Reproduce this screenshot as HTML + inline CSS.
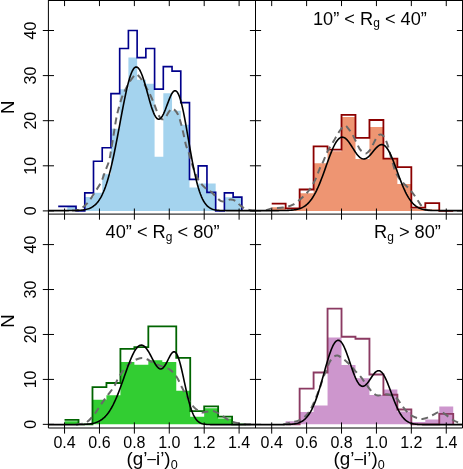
<!DOCTYPE html>
<html><head><meta charset="utf-8"><title>histograms</title>
<style>html,body{margin:0;padding:0;background:#fff}body{width:463px;height:469px;overflow:hidden;font-family:"Liberation Sans",sans-serif}</style></head>
<body>
<svg width="463" height="469" viewBox="0 0 463 469" style="display:block">
<rect width="463" height="469" fill="#fff"/>
<g id="TL">
<path d="M67.31,210.90V206.39H76.04V210.90H84.77V196.92H93.50V192.86H102.22V174.37H110.95V128.82H119.68V89.13H128.40V57.56H137.13V79.66H145.86V83.72H154.59V156.78H163.31V93.19H172.04V110.78H180.77V124.76H189.49V187.45H198.22V183.39H206.95V183.39H215.67V210.90H224.40V197.14H233.13V197.14H241.86V210.90Z" fill="#A4D3EE" stroke="none"/>
<path d="M58.20,206.39V206.39H67.31V206.39H76.04V210.90H84.77V192.86H93.50V161.29H102.22V147.76H110.95V93.64H119.68V48.54H128.40V30.50H137.13V57.56H145.86V48.54H154.59V89.13H163.31V66.58H172.04V71.09H180.77V102.66H189.49V179.33H198.22V165.80H206.95V192.41H215.67V210.90H224.40V192.86H233.13V197.14H241.86V210.90" fill="none" stroke="#00008B" stroke-width="1.65" stroke-linejoin="miter"/>
<path d="M72.00,210.40C73.25,210.27 76.82,210.95 79.50,209.60C82.18,208.25 85.58,205.13 88.10,202.30C90.62,199.47 92.43,195.95 94.60,192.60C96.77,189.25 99.37,185.67 101.10,182.20C102.83,178.73 103.70,175.25 105.00,171.80C106.30,168.35 107.93,164.80 108.90,161.50C109.87,158.20 109.95,156.87 110.80,152.00C111.65,147.13 113.10,137.82 114.00,132.30C114.90,126.78 115.52,122.53 116.20,118.90C116.88,115.27 117.23,113.83 118.10,110.50C118.97,107.17 120.20,102.35 121.40,98.90C122.60,95.45 123.80,92.83 125.30,89.80C126.80,86.77 128.68,83.25 130.40,80.70C132.12,78.15 134.18,75.25 135.60,74.50C137.02,73.75 137.72,75.05 138.90,76.20C140.08,77.35 140.87,78.38 142.70,81.40C144.53,84.42 147.95,90.42 149.90,94.30C151.85,98.18 153.08,101.47 154.40,104.70C155.72,107.93 156.65,111.33 157.80,113.70C158.95,116.07 160.12,118.15 161.30,118.90C162.48,119.65 163.55,119.50 164.90,118.20C166.25,116.90 168.03,112.67 169.40,111.10C170.77,109.53 171.70,108.27 173.10,108.80C174.50,109.33 176.47,111.77 177.80,114.30C179.13,116.83 180.08,120.43 181.10,124.00C182.12,127.57 183.08,132.17 183.90,135.70C184.72,139.23 185.22,142.47 186.00,145.20C186.78,147.93 187.60,148.97 188.60,152.10C189.60,155.23 190.77,160.18 192.00,164.00C193.23,167.82 194.55,171.80 196.00,175.00C197.45,178.20 199.05,180.97 200.70,183.20C202.35,185.43 204.17,186.97 205.90,188.40C207.63,189.83 209.37,190.37 211.10,191.80C212.83,193.23 214.72,195.50 216.30,197.00C217.88,198.50 219.17,200.08 220.60,200.80C222.03,201.52 223.32,201.50 224.90,201.30C226.48,201.10 228.37,199.68 230.10,199.60C231.83,199.52 233.72,199.93 235.30,200.80C236.88,201.67 238.02,203.50 239.60,204.80C241.18,206.10 242.93,207.70 244.80,208.60C246.67,209.50 249.10,209.90 250.80,210.20C252.50,210.50 254.30,210.37 255.00,210.40" fill="none" stroke="#696969" stroke-width="2" stroke-dasharray="6.8,4.6"/>
<path d="M48.40,210.60 L49.40,210.60 L50.40,210.60 L51.40,210.60 L52.40,210.60 L53.40,210.60 L54.40,210.60 L55.40,210.60 L56.40,210.60 L57.40,210.60 L58.40,210.60 L59.40,210.60 L60.40,210.60 L61.40,210.60 L62.40,210.60 L63.40,210.59 L64.40,210.59 L65.40,210.59 L66.40,210.59 L67.40,210.58 L68.40,210.58 L69.40,210.57 L70.40,210.56 L71.40,210.55 L72.40,210.54 L73.40,210.52 L74.40,210.50 L75.40,210.48 L76.40,210.44 L77.40,210.41 L78.40,210.36 L79.40,210.30 L80.40,210.22 L81.40,210.14 L82.40,210.03 L83.40,209.90 L84.40,209.74 L85.40,209.56 L86.40,209.34 L87.40,209.07 L88.40,208.76 L89.40,208.40 L90.40,207.97 L91.40,207.47 L92.40,206.90 L93.40,206.23 L94.40,205.46 L95.40,204.58 L96.40,203.58 L97.40,202.44 L98.40,201.15 L99.40,199.70 L100.40,198.08 L101.40,196.27 L102.40,194.26 L103.40,192.04 L104.40,189.61 L105.40,186.94 L106.40,184.04 L107.40,180.89 L108.40,177.50 L109.40,173.87 L110.40,169.99 L111.40,165.88 L112.40,161.53 L113.40,156.97 L114.40,152.22 L115.40,147.28 L116.40,142.20 L117.40,136.98 L118.40,131.67 L119.40,126.31 L120.40,120.92 L121.40,115.56 L122.40,110.26 L123.40,105.08 L124.40,100.05 L125.40,95.22 L126.40,90.64 L127.40,86.36 L128.40,82.41 L129.40,78.85 L130.40,75.70 L131.40,72.99 L132.40,70.76 L133.40,69.03 L134.40,67.82 L135.40,67.12 L136.40,66.95 L137.40,67.29 L138.40,68.14 L139.40,69.47 L140.40,71.26 L141.40,73.47 L142.40,76.05 L143.40,78.97 L144.40,82.15 L145.40,85.55 L146.40,89.10 L147.40,92.73 L148.40,96.37 L149.40,99.95 L150.40,103.41 L151.40,106.66 L152.40,109.65 L153.40,112.32 L154.40,114.61 L155.40,116.48 L156.40,117.88 L157.40,118.80 L158.40,119.21 L159.40,119.12 L160.40,118.53 L161.40,117.47 L162.40,115.98 L163.40,114.10 L164.40,111.90 L165.40,109.45 L166.40,106.83 L167.40,104.13 L168.40,101.44 L169.40,98.87 L170.40,96.50 L171.40,94.43 L172.40,92.74 L173.40,91.51 L174.40,90.80 L175.40,90.68 L176.40,91.18 L177.40,92.31 L178.40,94.10 L179.40,96.52 L180.40,99.56 L181.40,103.18 L182.40,107.33 L183.40,111.94 L184.40,116.94 L185.40,122.27 L186.40,127.83 L187.40,133.54 L188.40,139.33 L189.40,145.13 L190.40,150.84 L191.40,156.43 L192.40,161.81 L193.40,166.96 L194.40,171.82 L195.40,176.37 L196.40,180.60 L197.40,184.47 L198.40,188.00 L199.40,191.19 L200.40,194.03 L201.40,196.56 L202.40,198.78 L203.40,200.72 L204.40,202.39 L205.40,203.83 L206.40,205.05 L207.40,206.09 L208.40,206.95 L209.40,207.67 L210.40,208.26 L211.40,208.75 L212.40,209.14 L213.40,209.46 L214.40,209.72 L215.40,209.92 L216.40,210.08 L217.40,210.20 L218.40,210.30 L219.40,210.38 L220.40,210.43 L221.40,210.48 L222.40,210.51 L223.40,210.53 L224.40,210.55 L225.40,210.57 L226.40,210.58 L227.40,210.58 L228.40,210.59 L229.40,210.59 L230.40,210.59 L231.40,210.60 L232.40,210.60 L233.40,210.60 L234.40,210.60 L235.40,210.60 L236.40,210.60 L237.40,210.60 L238.40,210.60 L239.40,210.60 L240.40,210.60 L241.40,210.60 L242.40,210.60 L243.40,210.60 L244.40,210.60 L245.40,210.60 L246.40,210.60 L247.40,210.60 L248.40,210.60 L249.40,210.60 L250.40,210.60 L251.40,210.60 L252.40,210.60 L253.40,210.60 L254.40,210.60 L255.40,210.60" fill="none" stroke="#000" stroke-width="1.6" stroke-linejoin="round"/>
</g>
<g id="TR">
<path d="M271.70,210.90V207.16H285.66V210.00H299.63V193.31H313.59V163.32H327.56V151.37H341.52V117.09H355.48V159.04H369.45V127.01H383.41V158.58H397.38V183.89H411.34V208.65H425.30V209.55H439.27V210.90H453.23V210.90Z" fill="#EE9572" stroke="none"/>
<path d="M271.70,203.55V203.55H285.66V208.37H299.63V189.48H313.59V146.41H327.56V149.56H341.52V114.84H355.48V137.84H369.45V120.02H383.41V158.58H397.38V167.06H411.34V207.61H425.30V203.10H439.27V210.90H453.23V210.90" fill="none" stroke="#8B0000" stroke-width="1.8" stroke-linejoin="miter"/>
<path d="M266.00,210.40C267.10,210.02 269.77,208.57 272.60,208.10C275.43,207.63 279.60,208.18 283.00,207.60C286.40,207.02 289.70,206.37 293.00,204.60C296.30,202.83 300.03,199.52 302.80,197.00C305.57,194.48 307.45,192.52 309.60,189.50C311.75,186.48 314.07,182.25 315.70,178.90C317.33,175.55 318.13,172.33 319.40,169.40C320.67,166.47 321.90,164.40 323.30,161.30C324.70,158.20 326.07,154.17 327.80,150.80C329.53,147.43 331.85,144.23 333.70,141.10C335.55,137.97 337.10,134.58 338.90,132.00C340.70,129.42 343.00,126.25 344.50,125.60C346.00,124.95 346.57,126.60 347.90,128.10C349.23,129.60 350.98,132.00 352.50,134.60C354.02,137.20 355.82,141.32 357.00,143.70C358.18,146.08 358.75,147.60 359.60,148.90C360.45,150.20 361.03,150.75 362.10,151.50C363.17,152.25 364.70,153.62 366.00,153.40C367.30,153.18 368.72,151.72 369.90,150.20C371.08,148.68 372.02,146.37 373.10,144.30C374.18,142.23 375.32,139.42 376.40,137.80C377.48,136.18 378.58,135.03 379.60,134.60C380.62,134.17 381.53,134.45 382.50,135.20C383.47,135.95 384.37,136.93 385.40,139.10C386.43,141.27 387.83,145.38 388.70,148.20C389.57,151.02 389.95,153.62 390.60,156.00C391.25,158.38 391.77,159.82 392.60,162.50C393.43,165.18 394.25,169.10 395.60,172.10C396.95,175.10 398.68,177.98 400.70,180.50C402.72,183.02 405.40,184.70 407.70,187.20C410.00,189.70 412.37,192.60 414.50,195.50C416.63,198.40 418.87,202.33 420.50,204.60C422.13,206.87 422.72,208.13 424.30,209.10C425.88,210.07 429.05,210.18 430.00,210.40" fill="none" stroke="#696969" stroke-width="2" stroke-dasharray="6.8,4.6"/>
<path d="M255.50,210.60 L256.50,210.60 L257.50,210.60 L258.50,210.60 L259.50,210.60 L260.50,210.60 L261.50,210.60 L262.50,210.60 L263.50,210.60 L264.50,210.60 L265.50,210.60 L266.50,210.60 L267.50,210.60 L268.50,210.60 L269.50,210.60 L270.50,210.60 L271.50,210.60 L272.50,210.60 L273.50,210.59 L274.50,210.59 L275.50,210.59 L276.50,210.59 L277.50,210.58 L278.50,210.58 L279.50,210.57 L280.50,210.56 L281.50,210.56 L282.50,210.54 L283.50,210.53 L284.50,210.51 L285.50,210.48 L286.50,210.45 L287.50,210.42 L288.50,210.37 L289.50,210.32 L290.50,210.25 L291.50,210.17 L292.50,210.08 L293.50,209.96 L294.50,209.82 L295.50,209.66 L296.50,209.47 L297.50,209.24 L298.50,208.97 L299.50,208.66 L300.50,208.30 L301.50,207.89 L302.50,207.41 L303.50,206.87 L304.50,206.25 L305.50,205.54 L306.50,204.75 L307.50,203.86 L308.50,202.87 L309.50,201.77 L310.50,200.55 L311.50,199.21 L312.50,197.74 L313.50,196.15 L314.50,194.42 L315.50,192.56 L316.50,190.57 L317.50,188.46 L318.50,186.21 L319.50,183.85 L320.50,181.38 L321.50,178.81 L322.50,176.16 L323.50,173.44 L324.50,170.66 L325.50,167.86 L326.50,165.04 L327.50,162.24 L328.50,159.47 L329.50,156.75 L330.50,154.13 L331.50,151.62 L332.50,149.24 L333.50,147.02 L334.50,144.98 L335.50,143.15 L336.50,141.54 L337.50,140.16 L338.50,139.04 L339.50,138.18 L340.50,137.58 L341.50,137.24 L342.50,137.17 L343.50,137.36 L344.50,137.79 L345.50,138.45 L346.50,139.32 L347.50,140.39 L348.50,141.62 L349.50,142.98 L350.50,144.45 L351.50,145.99 L352.50,147.58 L353.50,149.16 L354.50,150.73 L355.50,152.23 L356.50,153.64 L357.50,154.93 L358.50,156.07 L359.50,157.05 L360.50,157.84 L361.50,158.43 L362.50,158.80 L363.50,158.96 L364.50,158.90 L365.50,158.64 L366.50,158.16 L367.50,157.51 L368.50,156.68 L369.50,155.72 L370.50,154.64 L371.50,153.47 L372.50,152.25 L373.50,151.01 L374.50,149.80 L375.50,148.63 L376.50,147.56 L377.50,146.61 L378.50,145.81 L379.50,145.19 L380.50,144.79 L381.50,144.61 L382.50,144.67 L383.50,145.00 L384.50,145.58 L385.50,146.43 L386.50,147.55 L387.50,148.91 L388.50,150.52 L389.50,152.35 L390.50,154.39 L391.50,156.61 L392.50,158.98 L393.50,161.49 L394.50,164.09 L395.50,166.77 L396.50,169.49 L397.50,172.23 L398.50,174.96 L399.50,177.66 L400.50,180.30 L401.50,182.87 L402.50,185.34 L403.50,187.71 L404.50,189.95 L405.50,192.07 L406.50,194.05 L407.50,195.89 L408.50,197.59 L409.50,199.15 L410.50,200.57 L411.50,201.86 L412.50,203.02 L413.50,204.06 L414.50,204.99 L415.50,205.80 L416.50,206.52 L417.50,207.15 L418.50,207.70 L419.50,208.17 L420.50,208.57 L421.50,208.92 L422.50,209.21 L423.50,209.46 L424.50,209.67 L425.50,209.84 L426.50,209.99 L427.50,210.11 L428.50,210.20 L429.50,210.28 L430.50,210.35 L431.50,210.40 L432.50,210.44 L433.50,210.48 L434.50,210.51 L435.50,210.53 L436.50,210.54 L437.50,210.56 L438.50,210.57 L439.50,210.58 L440.50,210.58 L441.50,210.59 L442.50,210.59 L443.50,210.59 L444.50,210.59 L445.50,210.60 L446.50,210.60 L447.50,210.60 L448.50,210.60 L449.50,210.60 L450.50,210.60 L451.50,210.60 L452.50,210.60 L453.50,210.60 L454.50,210.60 L455.50,210.60 L456.50,210.60 L457.50,210.60 L458.50,210.60 L459.50,210.60 L460.50,210.60 L461.50,210.60 L462.50,210.60" fill="none" stroke="#000" stroke-width="1.6" stroke-linejoin="round"/>
</g>
<g id="BL">
<path d="M64.55,424.35V421.20H78.51V424.35H92.48V399.81H106.44V395.27H120.41V362.11H134.37V364.71H148.33V360.31H162.30V362.11H176.26V390.65H190.23V416.71H204.19V408.17H218.15V418.51H232.12V424.35H246.08V424.35Z" fill="#32CD32" stroke="none"/>
<path d="M64.55,419.86V419.86H78.51V424.35H92.48V387.18H106.44V383.01H120.41V348.85H134.37V347.05H148.33V326.38H162.30V326.38H176.26V357.84H190.23V411.09H204.19V406.28H218.15V416.71H232.12V424.35H246.08V424.35" fill="none" stroke="#006400" stroke-width="1.8" stroke-linejoin="miter"/>
<path d="M76.00,424.40C77.70,424.08 83.10,424.23 86.20,422.50C89.30,420.77 92.12,417.03 94.60,414.00C97.08,410.97 98.93,407.42 101.10,404.30C103.27,401.18 105.45,398.22 107.60,395.30C109.75,392.38 112.25,389.63 114.00,386.80C115.75,383.97 116.55,381.02 118.10,378.30C119.65,375.58 121.65,372.72 123.30,370.50C124.95,368.28 126.48,366.50 128.00,365.00C129.52,363.50 130.90,362.47 132.40,361.50C133.90,360.53 135.38,359.78 137.00,359.20C138.62,358.62 140.43,357.98 142.10,358.00C143.77,358.02 145.33,358.62 147.00,359.30C148.67,359.98 150.27,361.18 152.10,362.10C153.93,363.02 156.02,363.93 158.00,364.80C159.98,365.67 161.95,366.45 164.00,367.30C166.05,368.15 168.18,368.28 170.30,369.90C172.42,371.52 174.77,374.10 176.70,377.00C178.63,379.90 180.18,383.97 181.90,387.30C183.62,390.63 185.13,393.83 187.00,397.00C188.87,400.17 190.78,403.75 193.10,406.30C195.42,408.85 198.75,411.38 200.90,412.30C203.05,413.22 204.13,412.03 206.00,411.80C207.87,411.57 210.35,410.82 212.10,410.90C213.85,410.98 214.92,411.57 216.50,412.30C218.08,413.03 219.30,413.85 221.60,415.30C223.90,416.75 227.13,419.62 230.30,421.00C233.47,422.38 236.78,423.03 240.60,423.60C244.42,424.17 251.10,424.27 253.20,424.40" fill="none" stroke="#696969" stroke-width="2" stroke-dasharray="6.8,4.6"/>
<path d="M48.40,424.65 L49.40,424.65 L50.40,424.65 L51.40,424.65 L52.40,424.65 L53.40,424.65 L54.40,424.65 L55.40,424.65 L56.40,424.65 L57.40,424.65 L58.40,424.65 L59.40,424.65 L60.40,424.65 L61.40,424.65 L62.40,424.65 L63.40,424.65 L64.40,424.65 L65.40,424.65 L66.40,424.65 L67.40,424.64 L68.40,424.64 L69.40,424.64 L70.40,424.64 L71.40,424.63 L72.40,424.63 L73.40,424.63 L74.40,424.62 L75.40,424.61 L76.40,424.60 L77.40,424.59 L78.40,424.57 L79.40,424.55 L80.40,424.53 L81.40,424.50 L82.40,424.47 L83.40,424.43 L84.40,424.38 L85.40,424.32 L86.40,424.25 L87.40,424.16 L88.40,424.06 L89.40,423.94 L90.40,423.80 L91.40,423.64 L92.40,423.45 L93.40,423.22 L94.40,422.96 L95.40,422.67 L96.40,422.32 L97.40,421.93 L98.40,421.48 L99.40,420.98 L100.40,420.40 L101.40,419.75 L102.40,419.03 L103.40,418.22 L104.40,417.32 L105.40,416.32 L106.40,415.22 L107.40,414.01 L108.40,412.69 L109.40,411.25 L110.40,409.69 L111.40,408.00 L112.40,406.20 L113.40,404.27 L114.40,402.21 L115.40,400.04 L116.40,397.74 L117.40,395.34 L118.40,392.84 L119.40,390.24 L120.40,387.56 L121.40,384.82 L122.40,382.02 L123.40,379.18 L124.40,376.33 L125.40,373.47 L126.40,370.64 L127.40,367.85 L128.40,365.13 L129.40,362.49 L130.40,359.97 L131.40,357.58 L132.40,355.34 L133.40,353.29 L134.40,351.42 L135.40,349.77 L136.40,348.36 L137.40,347.19 L138.40,346.27 L139.40,345.62 L140.40,345.24 L141.40,345.14 L142.40,345.30 L143.40,345.74 L144.40,346.43 L145.40,347.37 L146.40,348.54 L147.40,349.91 L148.40,351.47 L149.40,353.18 L150.40,354.99 L151.40,356.89 L152.40,358.81 L153.40,360.71 L154.40,362.53 L155.40,364.23 L156.40,365.75 L157.40,367.03 L158.40,368.02 L159.40,368.69 L160.40,368.99 L161.40,368.90 L162.40,368.42 L163.40,367.55 L164.40,366.32 L165.40,364.78 L166.40,362.99 L167.40,361.03 L168.40,359.01 L169.40,357.03 L170.40,355.22 L171.40,353.68 L172.40,352.53 L173.40,351.87 L174.40,351.77 L175.40,352.30 L176.40,353.49 L177.40,355.34 L178.40,357.83 L179.40,360.90 L180.40,364.50 L181.40,368.52 L182.40,372.86 L183.40,377.41 L184.40,382.05 L185.40,386.69 L186.40,391.21 L187.40,395.55 L188.40,399.62 L189.40,403.37 L190.40,406.78 L191.40,409.81 L192.40,412.48 L193.40,414.79 L194.40,416.75 L195.40,418.39 L196.40,419.75 L197.40,420.86 L198.40,421.75 L199.40,422.46 L200.40,423.01 L201.40,423.44 L202.40,423.76 L203.40,424.00 L204.40,424.19 L205.40,424.32 L206.40,424.42 L207.40,424.49 L208.40,424.54 L209.40,424.57 L210.40,424.60 L211.40,424.61 L212.40,424.62 L213.40,424.63 L214.40,424.64 L215.40,424.64 L216.40,424.64 L217.40,424.65 L218.40,424.65 L219.40,424.65 L220.40,424.65 L221.40,424.65 L222.40,424.65 L223.40,424.65 L224.40,424.65 L225.40,424.65 L226.40,424.65 L227.40,424.65 L228.40,424.65 L229.40,424.65 L230.40,424.65 L231.40,424.65 L232.40,424.65 L233.40,424.65 L234.40,424.65 L235.40,424.65 L236.40,424.65 L237.40,424.65 L238.40,424.65 L239.40,424.65 L240.40,424.65 L241.40,424.65 L242.40,424.65 L243.40,424.65 L244.40,424.65 L245.40,424.65 L246.40,424.65 L247.40,424.65 L248.40,424.65 L249.40,424.65 L250.40,424.65 L251.40,424.65 L252.40,424.65 L253.40,424.65 L254.40,424.65 L255.40,424.65" fill="none" stroke="#000" stroke-width="1.6" stroke-linejoin="round"/>
</g>
<g id="BR">
<path d="M285.66,424.35V421.20H299.63V412.08H313.59V405.61H327.56V337.39H341.52V365.03H355.48V378.29H369.45V394.91H383.41V389.48H397.38V411.41H411.34V421.88H425.30V419.50H439.27V406.55H453.23V424.35Z" fill="#CD96CD" stroke="none"/>
<path d="M285.66,424.35V424.35H299.63V388.62H313.59V372.49H327.56V308.63H341.52V336.72H355.48V338.74H369.45V374.47H383.41V394.78H397.38V409.52H411.34V424.35H425.30V424.35H439.27V413.92H453.23V424.35" fill="none" stroke="#8B3A62" stroke-width="1.85" stroke-linejoin="miter"/>
<path d="M283.00,424.40C284.50,424.05 289.33,422.98 292.00,422.30C294.67,421.62 296.83,421.27 299.00,420.30C301.17,419.33 303.17,418.13 305.00,416.50C306.83,414.87 308.33,413.25 310.00,410.50C311.67,407.75 313.43,403.58 315.00,400.00C316.57,396.42 318.02,392.75 319.40,389.00C320.78,385.25 322.10,380.75 323.30,377.50C324.50,374.25 325.52,372.13 326.60,369.50C327.68,366.87 328.65,363.78 329.80,361.70C330.95,359.62 332.20,358.02 333.50,357.00C334.80,355.98 336.07,355.35 337.60,355.60C339.13,355.85 341.20,357.48 342.70,358.50C344.20,359.52 345.22,360.45 346.60,361.70C347.98,362.95 349.58,364.48 351.00,366.00C352.42,367.52 353.50,369.03 355.10,370.80C356.70,372.57 358.68,374.25 360.60,376.60C362.52,378.95 364.58,382.25 366.60,384.90C368.62,387.55 370.80,390.73 372.70,392.50C374.60,394.27 375.98,395.22 378.00,395.50C380.02,395.78 382.63,394.25 384.80,394.20C386.97,394.15 388.98,394.47 391.00,395.20C393.02,395.93 395.17,397.03 396.90,398.60C398.63,400.17 399.73,402.42 401.40,404.60C403.07,406.78 405.13,409.82 406.90,411.70C408.67,413.58 410.17,414.82 412.00,415.90C413.83,416.98 416.17,417.70 417.90,418.20C419.63,418.70 420.78,419.00 422.40,418.90C424.02,418.80 425.87,418.25 427.60,417.60C429.33,416.95 431.07,415.87 432.80,415.00C434.53,414.13 436.38,412.80 438.00,412.40C439.62,412.00 441.00,412.07 442.50,412.60C444.00,413.13 445.38,414.45 447.00,415.60C448.62,416.75 450.47,418.42 452.20,419.50C453.93,420.58 455.60,421.42 457.40,422.10C459.20,422.78 462.07,423.35 463.00,423.60" fill="none" stroke="#696969" stroke-width="2" stroke-dasharray="6.8,4.6"/>
<path d="M255.50,424.65 L256.50,424.65 L257.50,424.65 L258.50,424.65 L259.50,424.65 L260.50,424.65 L261.50,424.65 L262.50,424.65 L263.50,424.65 L264.50,424.65 L265.50,424.65 L266.50,424.65 L267.50,424.65 L268.50,424.65 L269.50,424.65 L270.50,424.65 L271.50,424.65 L272.50,424.65 L273.50,424.65 L274.50,424.65 L275.50,424.64 L276.50,424.64 L277.50,424.64 L278.50,424.64 L279.50,424.63 L280.50,424.63 L281.50,424.62 L282.50,424.61 L283.50,424.60 L284.50,424.58 L285.50,424.56 L286.50,424.53 L287.50,424.50 L288.50,424.46 L289.50,424.40 L290.50,424.34 L291.50,424.26 L292.50,424.16 L293.50,424.03 L294.50,423.88 L295.50,423.70 L296.50,423.48 L297.50,423.22 L298.50,422.91 L299.50,422.53 L300.50,422.10 L301.50,421.58 L302.50,420.98 L303.50,420.29 L304.50,419.49 L305.50,418.57 L306.50,417.52 L307.50,416.34 L308.50,415.01 L309.50,413.52 L310.50,411.86 L311.50,410.02 L312.50,408.01 L313.50,405.81 L314.50,403.42 L315.50,400.85 L316.50,398.11 L317.50,395.19 L318.50,392.11 L319.50,388.88 L320.50,385.53 L321.50,382.08 L322.50,378.55 L323.50,374.97 L324.50,371.38 L325.50,367.81 L326.50,364.30 L327.50,360.89 L328.50,357.62 L329.50,354.53 L330.50,351.65 L331.50,349.03 L332.50,346.70 L333.50,344.70 L334.50,343.04 L335.50,341.76 L336.50,340.86 L337.50,340.37 L338.50,340.28 L339.50,340.60 L340.50,341.31 L341.50,342.41 L342.50,343.87 L343.50,345.66 L344.50,347.75 L345.50,350.11 L346.50,352.69 L347.50,355.44 L348.50,358.33 L349.50,361.29 L350.50,364.28 L351.50,367.24 L352.50,370.13 L353.50,372.89 L354.50,375.49 L355.50,377.88 L356.50,380.02 L357.50,381.88 L358.50,383.44 L359.50,384.68 L360.50,385.57 L361.50,386.13 L362.50,386.34 L363.50,386.23 L364.50,385.81 L365.50,385.11 L366.50,384.16 L367.50,383.00 L368.50,381.68 L369.50,380.24 L370.50,378.73 L371.50,377.22 L372.50,375.76 L373.50,374.39 L374.50,373.18 L375.50,372.17 L376.50,371.39 L377.50,370.89 L378.50,370.70 L379.50,370.82 L380.50,371.28 L381.50,372.07 L382.50,373.18 L383.50,374.61 L384.50,376.32 L385.50,378.30 L386.50,380.50 L387.50,382.89 L388.50,385.42 L389.50,388.06 L390.50,390.76 L391.50,393.48 L392.50,396.19 L393.50,398.85 L394.50,401.42 L395.50,403.89 L396.50,406.22 L397.50,408.42 L398.50,410.45 L399.50,412.31 L400.50,414.01 L401.50,415.54 L402.50,416.91 L403.50,418.11 L404.50,419.17 L405.50,420.09 L406.50,420.89 L407.50,421.56 L408.50,422.14 L409.50,422.62 L410.50,423.02 L411.50,423.35 L412.50,423.62 L413.50,423.84 L414.50,424.02 L415.50,424.16 L416.50,424.27 L417.50,424.36 L418.50,424.43 L419.50,424.49 L420.50,424.53 L421.50,424.56 L422.50,424.58 L423.50,424.60 L424.50,424.61 L425.50,424.62 L426.50,424.63 L427.50,424.64 L428.50,424.64 L429.50,424.64 L430.50,424.65 L431.50,424.65 L432.50,424.65 L433.50,424.65 L434.50,424.65 L435.50,424.65 L436.50,424.65 L437.50,424.65 L438.50,424.65 L439.50,424.65 L440.50,424.65 L441.50,424.65 L442.50,424.65 L443.50,424.65 L444.50,424.65 L445.50,424.65 L446.50,424.65 L447.50,424.65 L448.50,424.65 L449.50,424.65 L450.50,424.65 L451.50,424.65 L452.50,424.65 L453.50,424.65 L454.50,424.65 L455.50,424.65 L456.50,424.65 L457.50,424.65 L458.50,424.65 L459.50,424.65 L460.50,424.65 L461.50,424.65 L462.50,424.65" fill="none" stroke="#000" stroke-width="1.6" stroke-linejoin="round"/>
</g>
<g stroke="#000" stroke-width="1.0" fill="none">
<path d="M48.4,0.5H462.5M48.4,214.1H462.5M48.4,428.0H462.5M48.4,0V428.0M255.5,0V428.0M462.5,0V428.0"/>
<path d="M64.55,-5.1V6.1M64.55,208.5V219.7M64.55,422.4V433.6M99.46,-5.1V6.1M99.46,208.5V219.7M99.46,422.4V433.6M134.37,-5.1V6.1M134.37,208.5V219.7M134.37,422.4V433.6M169.28,-5.1V6.1M169.28,208.5V219.7M169.28,422.4V433.6M204.19,-5.1V6.1M204.19,208.5V219.7M204.19,422.4V433.6M239.10,-5.1V6.1M239.10,208.5V219.7M239.10,422.4V433.6M271.70,-5.1V6.1M271.70,208.5V219.7M271.70,422.4V433.6M306.61,-5.1V6.1M306.61,208.5V219.7M306.61,422.4V433.6M341.52,-5.1V6.1M341.52,208.5V219.7M341.52,422.4V433.6M376.43,-5.1V6.1M376.43,208.5V219.7M376.43,422.4V433.6M411.34,-5.1V6.1M411.34,208.5V219.7M411.34,422.4V433.6M446.25,-5.1V6.1M446.25,208.5V219.7M446.25,422.4V433.6M42.8,210.90H54.0M249.9,210.90H261.1M456.9,210.90H468.1M42.8,165.80H54.0M249.9,165.80H261.1M456.9,165.80H468.1M42.8,120.70H54.0M249.9,120.70H261.1M456.9,120.70H468.1M42.8,75.60H54.0M249.9,75.60H261.1M456.9,75.60H468.1M42.8,30.50H54.0M249.9,30.50H261.1M456.9,30.50H468.1M42.8,424.35H54.0M249.9,424.35H261.1M456.9,424.35H468.1M42.8,379.41H54.0M249.9,379.41H261.1M456.9,379.41H468.1M42.8,334.47H54.0M249.9,334.47H261.1M456.9,334.47H468.1M42.8,289.53H54.0M249.9,289.53H261.1M456.9,289.53H468.1M42.8,244.59H54.0M249.9,244.59H261.1M456.9,244.59H468.1"/>
</g>
<g font-family="Liberation Sans, sans-serif" fill="#000" opacity="0.999">
<text x="64.55" y="447.6" font-size="16" text-anchor="middle">0.4</text>
<text x="99.46" y="447.6" font-size="16" text-anchor="middle">0.6</text>
<text x="134.37" y="447.6" font-size="16" text-anchor="middle">0.8</text>
<text x="169.28" y="447.6" font-size="16" text-anchor="middle">1.0</text>
<text x="204.19" y="447.6" font-size="16" text-anchor="middle">1.2</text>
<text x="239.10" y="447.6" font-size="16" text-anchor="middle">1.4</text>
<text x="271.70" y="447.6" font-size="16" text-anchor="middle">0.4</text>
<text x="306.61" y="447.6" font-size="16" text-anchor="middle">0.6</text>
<text x="341.52" y="447.6" font-size="16" text-anchor="middle">0.8</text>
<text x="376.43" y="447.6" font-size="16" text-anchor="middle">1.0</text>
<text x="411.34" y="447.6" font-size="16" text-anchor="middle">1.2</text>
<text x="446.25" y="447.6" font-size="16" text-anchor="middle">1.4</text>
<text transform="translate(35.9,210.90) rotate(-90)" font-size="16" text-anchor="middle">0</text>
<text transform="translate(35.9,165.80) rotate(-90)" font-size="16" text-anchor="middle">10</text>
<text transform="translate(35.9,120.70) rotate(-90)" font-size="16" text-anchor="middle">20</text>
<text transform="translate(35.9,75.60) rotate(-90)" font-size="16" text-anchor="middle">30</text>
<text transform="translate(35.9,30.50) rotate(-90)" font-size="16" text-anchor="middle">40</text>
<text transform="translate(14.1,107.30) rotate(-90)" font-size="18.6" text-anchor="middle">N</text>
<text transform="translate(35.9,424.35) rotate(-90)" font-size="16" text-anchor="middle">0</text>
<text transform="translate(35.9,379.41) rotate(-90)" font-size="16" text-anchor="middle">10</text>
<text transform="translate(35.9,334.47) rotate(-90)" font-size="16" text-anchor="middle">20</text>
<text transform="translate(35.9,289.53) rotate(-90)" font-size="16" text-anchor="middle">30</text>
<text transform="translate(35.9,244.59) rotate(-90)" font-size="16" text-anchor="middle">40</text>
<text transform="translate(14.1,321.05) rotate(-90)" font-size="18.6" text-anchor="middle">N</text>
<text x="152.05" y="465.3" font-size="18.8" text-anchor="middle">(g’<tspan font-size="15.6" dy="-0.9">–</tspan><tspan dy="0.9">i’)</tspan><tspan font-size="12.6" dy="3.2">0</tspan></text>
<text x="359.10" y="465.3" font-size="18.8" text-anchor="middle">(g’<tspan font-size="15.6" dy="-0.9">–</tspan><tspan dy="0.9">i’)</tspan><tspan font-size="12.6" dy="3.2">0</tspan></text>
<text x="313.0" y="25.1" font-size="18.2">10” &lt; R<tspan font-size="12" dy="2.2">g</tspan><tspan dy="-2.2"> &lt; 40”</tspan></text>
<text x="105.6" y="238.3" font-size="18.2">40” &lt; R<tspan font-size="12" dy="2.2">g</tspan><tspan dy="-2.2"> &lt; 80”</tspan></text>
<text x="374.0" y="238.4" font-size="18.2">R<tspan font-size="12" dy="2.2">g</tspan><tspan dy="-2.2"> &gt; 80”</tspan></text>
</g>
</svg>
</body></html>
